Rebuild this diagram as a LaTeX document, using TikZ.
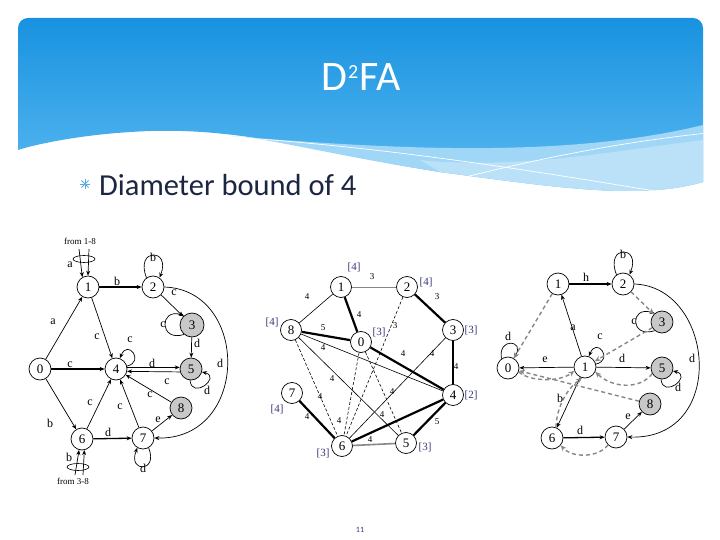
\documentclass[tikz,border=0pt]{standalone}
\usepackage{fontspec}
\setmainfont{Carlito}
\newfontfamily\gfont{Liberation Serif}
\usetikzlibrary{arrows.meta}
\definecolor{hdrTop}{RGB}{24,146,224}
\definecolor{hdrBot}{RGB}{95,188,242}
\definecolor{swoosh}{RGB}{160,214,246}
\definecolor{bulletc}{RGB}{90,170,225}
\definecolor{brk}{RGB}{55,55,120}
\definecolor{gnode}{RGB}{200,200,200}
\definecolor{dgray}{RGB}{135,135,135}
\definecolor{txt}{RGB}{28,38,66}
\begin{document}
\begin{tikzpicture}[x=1pt,y=-1pt,
  st/.style={circle,draw,line width=0.7pt,minimum size=22pt,inner sep=0pt,font=\gfont\fontsize{13}{13}\selectfont,fill=white},
  gst/.style={st,fill=gnode},
  lab/.style={font=\gfont\fontsize{12}{12}\selectfont,inner sep=0pt},
  wl/.style={font=\gfont\fontsize{9}{9}\selectfont,inner sep=0pt},
  bk/.style={font=\gfont\fontsize{11}{11}\selectfont,text=brk,inner sep=0pt},
  fromlab/.style={font=\gfont\fontsize{9}{9}\selectfont,inner sep=0pt},
  tr/.style={line width=0.7pt,-{Stealth[length=5pt,width=4pt]}},
  ttr/.style={tr,line width=1.3pt},
  dtr/.style={line width=1.4pt,dgray,dash pattern=on 4pt off 3pt,-{Stealth[length=6pt,width=5pt]}},
  thinedge/.style={line width=0.6pt},
  heavy/.style={line width=2.2pt},
  grayedge/.style={line width=0.8pt,dgray},
  dashedge/.style={line width=0.6pt,dash pattern=on 3pt off 2pt},
]
\useasboundingbox (0,0) rectangle (720,540);
\fill[white] (0,0) rectangle (720,540);

% ---------- header ----------
\begin{scope}
\clip[rounded corners=10pt] (18,18) rectangle (703,300);
\shade[top color=hdrTop,bottom color=hdrBot] (18,150) -- (18,18) -- (703,18) -- (703,182)
  .. controls (640,200) and (560,188) .. (440,172)
  .. controls (330,155) and (250,128) .. (151,131)
  .. controls (90,133) and (40,143) .. (18,150) -- cycle;
\fill[swoosh] (230,136) .. controls (380,148) and (560,160) .. (703,125) -- (703,182)
  .. controls (640,200) and (560,188) .. (440,172)
  .. controls (330,155) and (270,138) .. (230,136) -- cycle;
\fill[swoosh!60!white,opacity=0.7] (420,160) .. controls (520,170) and (620,150) .. (703,140) -- (703,182)
  .. controls (640,200) and (560,188) .. (440,172) -- cycle;
\draw[white,line width=0.7pt] (230,137) .. controls (400,148) and (560,175) .. (708,200);
\draw[white,line width=0.7pt] (442,183) .. controls (530,160) and (620,142) .. (708,133);
\end{scope}
\node[font=\fontsize{42}{42}\selectfont,text=white] (title) at (361,77) {D\kern1pt\raisebox{12pt}{\fontsize{20}{20}\selectfont 2}\kern1pt FA};
\coordinate (bc) at (85,184);
\foreach \a in {0,45,90,135} \draw[bulletc,line width=0.9pt] ([shift={(\a:5)}]bc) -- ([shift={(\a+180:5)}]bc);
\node[anchor=base west,font=\fontsize{30.5}{30.5}\selectfont,text=txt,inner sep=0pt] (bul) at (99,196) {Diameter bound of 4};
\node[font=\fontsize{8}{8}\selectfont,text=brk] (pg) at (360,530) {11};

% ---------- left graph ----------
\node[st] (a1) at (88,287) {1};
\node[st] (a2) at (153,287) {2};
\node[gst,minimum size=24pt] (a3) at (192,325) {3};
\node[st] (a0) at (40,369) {0};
\node[st] (a4) at (116,369) {4};
\node[gst] (a5) at (191,369) {5};
\node[gst] (a8) at (181,408) {8};
\node[st] (a6) at (82,439) {6};
\node[st] (a7) at (143,438) {7};

\draw[tr] (a0) -- (a1);
\draw[tr] (a1) -- (a4);
\draw[ttr] (a1) -- (a2);
\draw[tr] (a2) -- (a3);
\draw[tr] (a3) -- (a5);
\draw[ttr] (a0) -- (a4);
\draw[ttr] (a4.8) -- (a5.172);
\draw[tr] (a5.195) -- (a4.-12);
\draw[tr] (a8) -- (a4);
\draw[tr] (a7) -- (a8);
\draw[tr] (a7) -- (a4);
\draw[ttr] (a6) -- (a7);
\draw[tr] (a6) -- (a4);
\draw[tr] (a0) -- (a6);
\draw[tr] (a2.east) .. controls (250,290) and (250,440) .. (a7.east);
\draw[tr] (a2.125) .. controls +(-12,-30) and +(12,-30) .. (a2.55);
\draw[tr] (a3.230) .. controls +(-25,8) and +(-25,-8) .. (a3.130);
\draw[tr] (a4.15) .. controls +(18,-4) and +(8,-20) .. (a4.70);
\draw[tr] (a5.-95) .. controls +(2,20) and +(20,5) .. (a5.-15);
\draw[tr] (a7.-60) .. controls +(10,25) and +(-10,25) .. (a7.-120);

\coordinate (f1a) at (79,249);
\coordinate (f1b) at (89,249);
\draw[tr] (f1a) -- (a1.120);
\draw[tr] (f1b) -- (a1.north);
\coordinate (e1) at (84,259);
\draw[line width=0.6pt] (e1) ellipse [x radius=11, y radius=3.5];
\node[fromlab] (from1) at (80,241) {from 1-8};
\coordinate (f6a) at (75,475);
\coordinate (f6b) at (83,475);
\draw[tr] (f6a) -- (a6.255);
\draw[tr] (f6b) -- (a6.282);
\coordinate (e6) at (78,467);
\draw[line width=0.6pt] (e6) ellipse [x radius=11, y radius=3.5];
\node[fromlab] (from6) at (73,481) {from 3-8};

\node[lab] (la11) at (70,265) {a};
\node[lab] (la01) at (53,322) {a};
\node[lab] (la14) at (97,337) {c};
\node[lab] (la12) at (117,281) {b};
\node[lab] (la22) at (153,257) {b};
\node[lab] (la23) at (174,293) {c};
\node[lab] (la33) at (163,325) {c};
\node[lab] (la35) at (197,343) {d};
\node[lab] (la44) at (130,340) {c};
\node[lab] (la04) at (70,365) {c};
\node[lab] (la45) at (152,363) {d};
\node[lab] (la54) at (167,382) {c};
\node[lab] (la55) at (207,390) {d};
\node[lab] (la27) at (220,363) {d};
\node[lab] (la84) at (150,395) {c};
\node[lab] (la78) at (158,420) {e};
\node[lab] (la74) at (120,407) {c};
\node[lab] (la67) at (108,432) {d};
\node[lab] (la64) at (90,403) {c};
\node[lab] (la06) at (50,423) {b};
\node[lab] (la77) at (143,468) {d};
\node[lab] (la66) at (69,457) {b};

% ---------- middle graph ----------
\node[st,minimum size=21pt] (m1) at (341,287) {1};
\node[st,minimum size=21pt] (m2) at (407,287) {2};
\node[st,minimum size=21pt] (m8) at (291,330) {8};
\node[st,minimum size=21pt] (m0) at (361,342) {0};
\node[st,minimum size=21pt] (m3) at (453,330) {3};
\node[st,minimum size=21pt] (m7) at (292,393) {7};
\node[st,minimum size=21pt] (m4) at (453,395) {4};
\node[st,minimum size=21pt] (m6) at (342,446) {6};
\node[st,minimum size=21pt] (m5) at (406,443) {5};

\draw[grayedge] (m1) -- (m2);
\draw[thinedge] (m1) -- (m8);
\draw[heavy] (m1) -- (m0);
\draw[heavy] (m8) -- (m0);
\draw[heavy] (m2) -- (m3);
\draw[dashedge] (m2) -- (m6);
\draw[thinedge] (m8) -- (m4);
\draw[thinedge] (m8) -- (m5);
\draw[dashedge] (m8) -- (m6);
\draw[heavy] (m0) -- (m4);
\draw[dashedge] (m0) -- (m5);
\draw[dashedge] (m0) -- (m6);
\draw[thinedge] (m3) -- (m6);
\draw[heavy] (m3) -- (m4);
\draw[heavy] (m4) -- (m6);
\draw[heavy] (m4) -- (m5);
\draw[heavy] (m7) -- (m6);
\draw[grayedge,line width=1.6pt] (m6) -- (m5);

\node[wl] (w12) at (372,277) {3};
\node[wl] (w18) at (307,297) {4};
\node[wl] (w10) at (359,315) {4};
\node[wl] (w80) at (323,328) {5};
\node[wl] (w84) at (323,348) {4};
\node[wl] (w23) at (437,297) {3};
\node[wl] (w26) at (395,326) {3};
\node[wl] (w04) at (403,354) {4};
\node[wl] (w36) at (432,354) {4};
\node[wl] (w34) at (456,367) {4};
\node[wl] (w85) at (332,379) {4};
\node[wl] (w05) at (392,392) {4};
\node[wl] (w86) at (320,397) {4};
\node[wl] (w76) at (307,417) {4};
\node[wl] (w46) at (382,415) {4};
\node[wl] (w06) at (339,421) {4};
\node[wl] (w45) at (437,422) {5};
\node[wl] (w65) at (370,440) {4};

\node[bk] (b1) at (354,267) {[4]};
\node[bk] (b2) at (426,282) {[4]};
\node[bk] (b8) at (272,322) {[4]};
\node[bk] (b0) at (379,332) {[3]};
\node[bk] (b3) at (471,330) {[3]};
\node[bk] (b7) at (277,409) {[4]};
\node[bk] (b4) at (471,395) {[2]};
\node[bk] (b6) at (323,453) {[3]};
\node[bk] (b5) at (425,447) {[3]};

% ---------- right graph ----------
\node[st] (r1) at (558,284) {1};
\node[st] (r2) at (623,284) {2};
\node[gst] (r3) at (662,322) {3};
\node[st] (r0) at (508,368) {0};
\node[st] (rC) at (585,367) {1};
\node[gst] (r5) at (662,368) {5};
\node[gst] (r8) at (650,404) {8};
\node[st] (r6) at (552,438) {6};
\node[st] (r7) at (616,437) {7};

\draw[ttr] (r1) -- (r2);
\draw[tr] (r2.125) .. controls +(-12,-30) and +(12,-30) .. (r2.55);
\draw[tr] (r3.230) .. controls +(-25,8) and +(-25,-8) .. (r3.130);
\draw[tr] (r2.east) .. controls (715,287) and (728,440) .. (r7.east);
\draw[tr] (rC) -- (r1);
\draw[tr] (rC.15) .. controls +(18,-4) and +(8,-20) .. (rC.70);
\draw[tr] (rC) -- (r0);
\draw[tr] (r0.125) .. controls +(-4,-22) and +(12,-18) .. (r0.60);
\draw[tr] (rC) -- (r5);
\draw[tr] (r5.-95) .. controls +(2,20) and +(20,5) .. (r5.-15);
\draw[tr] (rC) -- (r6);
\draw[ttr] (r6) -- (r7);
\draw[tr] (r7) -- (r8);

\draw[dtr] (r1) -- (r0);
\draw[dtr] (r2) -- (r3);
\draw[dtr] (r3) -- (rC);
\draw[dtr] (r0.-20) .. controls (530,382) and (560,382) .. (rC.-160);
\draw[dtr] (r8) -- (r0);
\draw[dtr] (r5.-150) .. controls (640,390) and (612,388) .. (rC.-25);
\draw[dtr] (r6.70) .. controls (557,405) and (568,388) .. (rC.-105);
\draw[dtr] (r7.-135) .. controls (598,458) and (572,458) .. (r6.-40);

\node[lab] (lr12) at (586,277) {h};
\node[lab] (lr22) at (623,254) {b};
\node[lab] (lr33) at (634,322) {c};
\node[lab] (lr27) at (692,358) {d};
\node[lab] (lrC1) at (573,328) {a};
\node[lab] (lrCC) at (600,337) {c};
\node[lab] (lrC0) at (545,360) {e};
\node[lab] (lr00) at (508,336) {d};
\node[lab] (lrC5) at (622,358) {d};
\node[lab] (lr55) at (678,387) {d};
\node[lab] (lrC6) at (560,398) {b};
\node[lab] (lr67) at (580,430) {d};
\node[lab] (lr78) at (628,417) {e};
\end{tikzpicture}
\end{document}
